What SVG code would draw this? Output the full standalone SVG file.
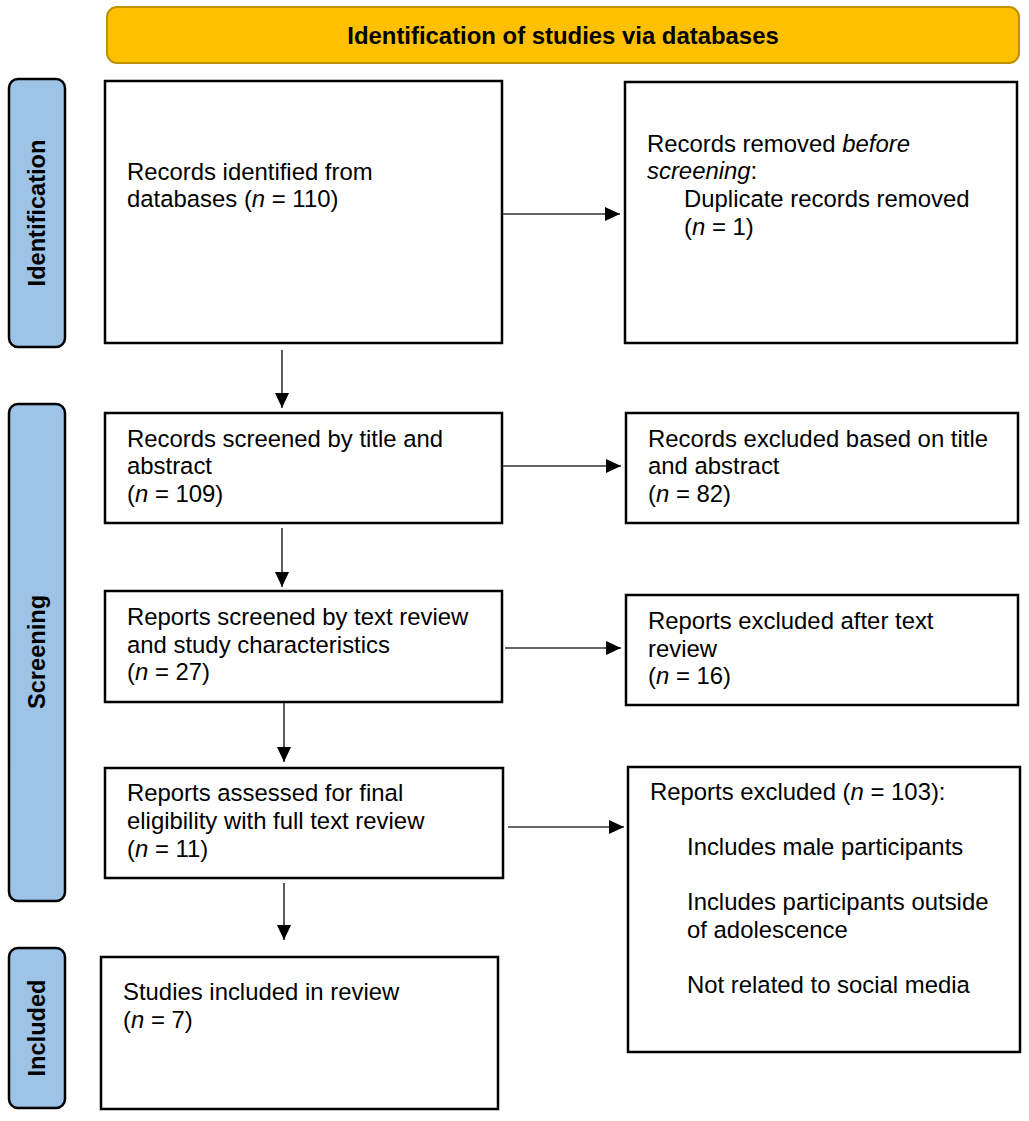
<svg xmlns="http://www.w3.org/2000/svg" width="1029" height="1121" viewBox="0 0 1029 1121">
<style>
text{font-family:"Liberation Sans",Arial,sans-serif;font-size:23.9px;fill:#000}
.b{font-weight:bold}
.s{font-size:23.6px}
.i{font-style:italic}
.box{fill:#fff;stroke:#000;stroke-width:2.5}
.side{fill:#9DC3E6;stroke:#000;stroke-width:2.5}
.ban{fill:#FFC000;stroke:#BF9000;stroke-width:2}
.con{stroke:#333;stroke-width:1.6;fill:none;marker-end:url(#ah)}
</style>
<defs>
<marker id="ah" markerWidth="16" markerHeight="14" refX="15" refY="7" orient="auto" markerUnits="userSpaceOnUse">
<path d="M0,0 L15,7 L0,14 Z" fill="#000"/>
</marker>
</defs>
<rect width="1029" height="1121" fill="#fff"/>

<g id="banner">
<rect class="ban" x="107" y="7" width="912" height="56" rx="10"/>
<text class="b" x="563" y="44" text-anchor="middle">Identification of studies via databases</text>
</g>

<g id="side-identification">
<rect class="side" x="9" y="79" width="56" height="268" rx="9"/>
<text class="b s" transform="translate(45,213) rotate(-90)" text-anchor="middle">Identification</text>
</g>
<g id="side-screening">
<rect class="side" x="9" y="404" width="56" height="497" rx="9"/>
<text class="b s" transform="translate(45,652) rotate(-90)" text-anchor="middle">Screening</text>
</g>
<g id="side-included">
<rect class="side" x="9" y="948" width="56" height="160" rx="9"/>
<text class="b s" transform="translate(45,1028) rotate(-90)" text-anchor="middle">Included</text>
</g>

<g id="n-identified">
<rect class="box" x="105" y="81" width="397" height="262"/>
<text x="127" y="180">Records identified from</text>
<text x="127" y="207">databases (<tspan class="i">n</tspan> = 110)</text>
</g>
<g id="n-removed">
<rect class="box" x="625" y="82" width="392" height="261"/>
<text x="647" y="152">Records removed <tspan class="i">before</tspan></text>
<text x="647" y="179"><tspan class="i">screening</tspan>:</text>
<text x="684" y="207">Duplicate records removed</text>
<text x="684" y="235">(<tspan class="i">n</tspan> = 1)</text>
</g>
<g id="n-screened">
<rect class="box" x="105" y="413" width="397" height="110"/>
<text x="127" y="447">Records screened by title and</text>
<text x="127" y="474">abstract</text>
<text x="127" y="502">(<tspan class="i">n</tspan> = 109)</text>
</g>
<g id="n-excluded-title">
<rect class="box" x="626" y="413" width="392" height="110"/>
<text x="648" y="447">Records excluded based on title</text>
<text x="648" y="474">and abstract</text>
<text x="648" y="502">(<tspan class="i">n</tspan> = 82)</text>
</g>
<g id="n-reports-screened">
<rect class="box" x="105" y="591" width="397" height="111"/>
<text x="127" y="625">Reports screened by text review</text>
<text x="127" y="653">and study characteristics</text>
<text x="127" y="680">(<tspan class="i">n</tspan> = 27)</text>
</g>
<g id="n-excluded-text">
<rect class="box" x="626" y="595" width="392" height="110"/>
<text x="648" y="629">Reports excluded after text</text>
<text x="648" y="657">review</text>
<text x="648" y="684">(<tspan class="i">n</tspan> = 16)</text>
</g>
<g id="n-assessed">
<rect class="box" x="105" y="768" width="398" height="110"/>
<text x="127" y="801">Reports assessed for final</text>
<text x="127" y="829">eligibility with full text review</text>
<text x="127" y="857">(<tspan class="i">n</tspan> = 11)</text>
</g>
<g id="n-excluded-final">
<rect class="box" x="628" y="767" width="392" height="285"/>
<text x="650" y="800">Reports excluded (<tspan class="i">n</tspan> = 103):</text>
<text x="687" y="855">Includes male participants</text>
<text x="687" y="910">Includes participants outside</text>
<text x="687" y="938">of adolescence</text>
<text x="687" y="993">Not related to social media</text>
</g>
<g id="n-included">
<rect class="box" x="101" y="957" width="397" height="152"/>
<text x="123" y="1000">Studies included in review</text>
<text x="123" y="1028">(<tspan class="i">n</tspan> = 7)</text>
</g>

<g id="connectors">
<line class="con" x1="503" y1="214" x2="620" y2="214"/>
<line class="con" x1="282" y1="350" x2="282" y2="408"/>
<line class="con" x1="503" y1="466" x2="621" y2="466"/>
<line class="con" x1="282" y1="528" x2="282" y2="587"/>
<line class="con" x1="505" y1="648" x2="621" y2="648"/>
<line class="con" x1="284" y1="703" x2="284" y2="762"/>
<line class="con" x1="508" y1="827" x2="624" y2="827"/>
<line class="con" x1="284" y1="883" x2="284" y2="940"/>
</g>
</svg>
